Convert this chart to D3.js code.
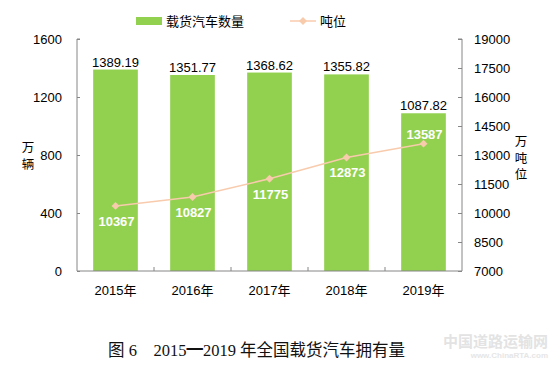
<!DOCTYPE html>
<html>
<head>
<meta charset="utf-8">
<script src="https://cdn.jsdelivr.net/npm/d3@7"></script>
<style>
  body { margin: 0; background: #fff; }
  text { font-family: "Liberation Sans", Arial, "Noto Sans CJK SC", sans-serif; }
</style>
</head>
<body>
<script>
// data
const years = ['2015年', '2016年', '2017年', '2018年', '2019年'];
const trucks = [1389.19, 1351.77, 1368.62, 1355.82, 1087.82];   // 万辆
const tonnage = [10367, 10827, 11775, 12873, 13587];             // 万吨位
const leftTicks = [0, 400, 800, 1200, 1600];
const rightTicks = [7000, 8500, 10000, 11500, 13000, 14500, 16000, 17500, 19000];
// label above the point only for the last year
const lineLabelAbove = [false, false, false, false, true];

const W = 550, H = 375;
const svg = d3.select('body').append('svg')
  .attr('width', W)
  .attr('height', H);

const plotLeft = 77, plotRight = 462, plotTop = 39, plotBottom = 271;

const x = d3.scaleBand().domain(years).range([plotLeft, plotRight]).paddingInner(0.42).paddingOuter(0.21);
const xOuter = d3.scaleBand().domain(years).range([plotLeft, plotRight]);
const yL = d3.scaleLinear().domain([0, 1600]).range([plotBottom, plotTop]);
const yR = d3.scaleLinear().domain([7000, 19000]).range([plotBottom, plotTop]);

const axisColor = '#868686';

// bars
svg.selectAll('rect.bar')
  .data(trucks)
  .enter()
  .append('rect')
  .attr('class', 'bar')
  .attr('x', (d, i) => x(years[i]))
  .attr('y', d => yL(d))
  .attr('width', x.bandwidth())
  .attr('height', d => plotBottom - yL(d))
  .attr('fill', '#92D050');

// bar value labels
svg.selectAll('text.barval')
  .data(trucks)
  .enter()
  .append('text')
  .attr('x', (d, i) => x(years[i]) + x.bandwidth() / 2)
  .attr('y', d => yL(d) - 3)
  .attr('text-anchor', 'middle')
  .attr('font-size', 13)
  .attr('fill', '#000')
  .text(d => d.toFixed(2));

// left axis
const axL = svg.append('g')
  .attr('transform', `translate(${plotLeft},0)`)
  .call(d3.axisRight(yL).tickValues(leftTicks).tickSize(3).tickFormat(d3.format('d')));
axL.select('.domain').attr('stroke', axisColor).attr('d', `M3,${plotTop}H0V${plotBottom}`);
axL.selectAll('.tick line').attr('stroke', axisColor);
axL.selectAll('.tick text')
  .attr('x', -15).attr('text-anchor', 'end')
  .attr('font-size', 13).attr('fill', '#000')
  .style('font-family', '"Liberation Sans", Arial, sans-serif');

// right axis
const axR = svg.append('g')
  .attr('transform', `translate(${plotRight},0)`)
  .call(d3.axisLeft(yR).tickValues(rightTicks).tickSize(4).tickFormat(d3.format('d')));
axR.select('.domain').attr('stroke', axisColor).attr('d', `M-4,${plotTop}H0V${plotBottom}`);
axR.selectAll('.tick line').attr('stroke', axisColor);
axR.selectAll('.tick text')
  .attr('x', 12).attr('text-anchor', 'start')
  .attr('font-size', 13).attr('fill', '#000')
  .style('font-family', '"Liberation Sans", Arial, sans-serif');

// bottom axis, ticks between categories
const sepTicks = years.slice(1).map(y => xOuter(y));
const axB = svg.append('g').attr('transform', `translate(0,${plotBottom})`);
axB.append('line').attr('x1', plotLeft).attr('x2', plotRight).attr('stroke', axisColor);
axB.selectAll('line.sep')
  .data(sepTicks)
  .enter()
  .append('line')
  .attr('x1', d => d).attr('x2', d => d)
  .attr('y1', 0).attr('y2', -4)
  .attr('stroke', axisColor);
axB.selectAll('text')
  .data(years)
  .enter()
  .append('text')
  .attr('x', d => xOuter(d) + xOuter.bandwidth() / 2)
  .attr('y', 24)
  .attr('text-anchor', 'middle')
  .attr('font-size', 13)
  .attr('fill', '#000')
  .text(d => d);

// tonnage line
const lineColor = '#F8CBAD';
const cx = i => xOuter(years[i]) + xOuter.bandwidth() / 2;
svg.append('path')
  .datum(tonnage)
  .attr('d', d3.line().x((d, i) => cx(i)).y(d => yR(d)))
  .attr('fill', 'none')
  .attr('stroke', lineColor)
  .attr('stroke-width', 1.5);

svg.selectAll('path.pt')
  .data(tonnage)
  .enter()
  .append('path')
  .attr('d', d3.symbol().type(d3.symbolDiamond2).size(40))
  .attr('transform', (d, i) => `translate(${cx(i)},${yR(d)})`)
  .attr('fill', lineColor);

svg.selectAll('text.lineval')
  .data(tonnage)
  .enter()
  .append('text')
  .attr('x', (d, i) => cx(i) + 1)
  .attr('y', (d, i) => lineLabelAbove[i] ? yR(d) - 5 : yR(d) + 20)
  .attr('text-anchor', 'middle')
  .attr('font-size', 13)
  .attr('font-weight', 'bold')
  .attr('fill', '#fff')
  .text(d => d);

// axis titles, written top to bottom
const cjk = '"Noto Sans CJK SC", sans-serif';
svg.append('text')
  .attr('x', 28).attr('y', 141)
  .style('writing-mode', 'vertical-rl')
  .style('letter-spacing', '4px')
  .attr('font-size', 12.5)
  .style('font-family', cjk)
  .text('万辆');
svg.append('text')
  .attr('x', 521).attr('y', 135)
  .style('writing-mode', 'vertical-rl')
  .style('letter-spacing', '4px')
  .attr('font-size', 12.5)
  .style('font-family', cjk)
  .text('万吨位');

// legend
svg.append('rect')
  .attr('x', 136).attr('y', 17).attr('width', 26).attr('height', 8)
  .attr('fill', '#92D050');
svg.append('text')
  .attr('x', 166).attr('y', 26)
  .attr('font-size', 13)
  .style('font-family', cjk)
  .text('载货汽车数量');
svg.append('line')
  .attr('x1', 290).attr('x2', 316).attr('y1', 21).attr('y2', 21)
  .attr('stroke', lineColor).attr('stroke-width', 1.5);
svg.append('path')
  .attr('d', d3.symbol().type(d3.symbolDiamond2).size(40))
  .attr('transform', 'translate(303,21)')
  .attr('fill', lineColor);
svg.append('text')
  .attr('x', 320).attr('y', 26)
  .attr('font-size', 13)
  .style('font-family', cjk)
  .text('吨位');

// caption
svg.append('text')
  .attr('x', 108).attr('y', 356)
  .attr('font-size', 16.5)
  .attr('fill', '#111')
  .style('font-family', '"Liberation Serif", "Noto Sans CJK SC", serif')
  .text('图 6　2015━2019 年全国载货汽车拥有量');

// watermark
svg.append('text')
  .attr('x', 548).attr('y', 347)
  .attr('text-anchor', 'end')
  .attr('font-size', 15)
  .attr('font-weight', 'bold')
  .attr('fill', '#e3e3e3')
  .style('font-family', cjk)
  .text('中国道路运输网');
svg.append('text')
  .attr('x', 548).attr('y', 358)
  .attr('text-anchor', 'end')
  .attr('font-size', 8)
  .attr('font-weight', 'bold')
  .attr('fill', '#e6e6e6')
  .text('www.ChinaRTA.com');
</script>
</body>
</html>
